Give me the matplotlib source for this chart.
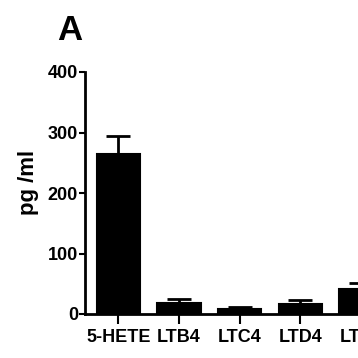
import matplotlib.pyplot as plt
import numpy as np

# data
labels = ['5-HETE', 'LTB4', 'LTC4', 'LTD4', 'LTE4']
means = [265, 18, 8, 17, 42]
errors = [30, 6, 3, 6, 10]

plt.rcParams['font.family'] = ['Liberation Sans', 'DejaVu Sans']
plt.rcParams['font.weight'] = 'bold'

fig = plt.figure(figsize=(3.58, 3.58), dpi=100)
# axes run past the right edge, like the cropped original
ax = fig.add_axes([85 / 358, 44 / 358, 367 / 358, 242 / 358])

x = np.arange(len(labels))
lower = [0] * len(errors)
ax.bar(x, means, width=0.71, color='black', edgecolor='black', linewidth=1.5,
       yerr=[lower, errors], capsize=8.5,
       error_kw=dict(elinewidth=2, capthick=2, ecolor='black'))

ax.set_xlim(-0.55, 5.5)
ax.set_ylim(0, 400)
ax.set_yticks([0, 100, 200, 300, 400])
ax.set_xticks(x)
ax.set_xticklabels(labels, fontsize=13, fontweight='bold')
ax.tick_params(axis='y', labelsize=13, width=1.5, length=4, pad=1)
ax.tick_params(axis='x', width=1.5, length=7, pad=4)
for lab in ax.get_yticklabels():
    lab.set_fontweight('bold')

ax.spines['top'].set_visible(False)
ax.spines['right'].set_visible(False)
ax.spines['left'].set_linewidth(2)
ax.spines['bottom'].set_linewidth(2)

ax.set_ylabel('pg /ml', fontsize=16, fontweight='bold')
ax.yaxis.set_label_coords(-0.126, 0.545)

fig.text(57 / 358, 1 - 40 / 358, 'A', fontsize=25, fontweight='bold')

fig.savefig('out.png', dpi=100)
